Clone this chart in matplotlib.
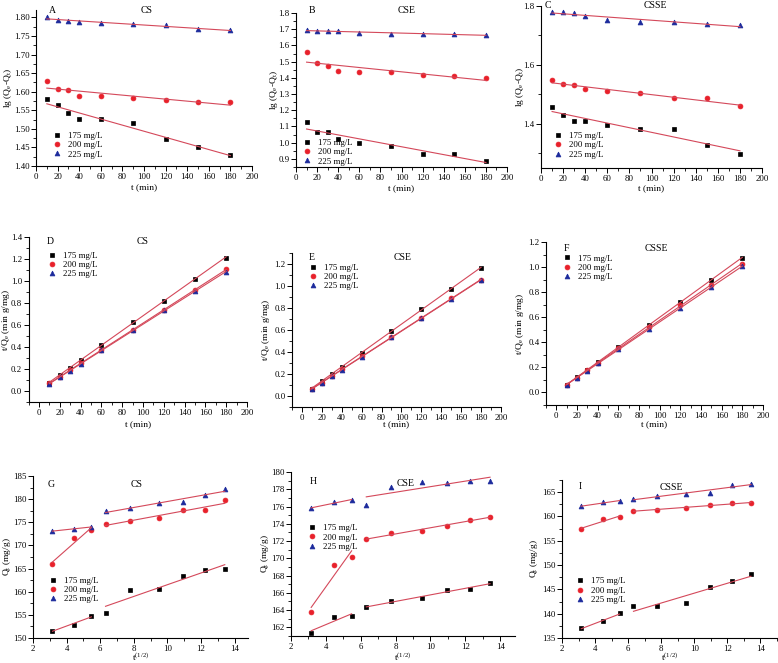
import numpy as np
import matplotlib
matplotlib.use("Agg")
import matplotlib.pyplot as plt
from matplotlib.ticker import MultipleLocator, FormatStrFormatter

plt.rcParams['font.family'] = 'Liberation Serif'
plt.rcParams['mathtext.fontset'] = 'custom'
plt.rcParams['mathtext.rm'] = 'Liberation Serif'
plt.rcParams['mathtext.it'] = 'Liberation Serif:italic'

# time (min) and square root of time
t = [10, 20, 30, 40, 60, 90, 120, 150, 180]
sqrt_t = [3.16, 4.47, 5.48, 6.32, 7.75, 9.49, 10.95, 12.25, 13.42]
labels = ['175 mg/L', '200 mg/L', '225 mg/L']

# pseudo-first-order, lg(Qe-Qt)
A175 = [1.580, 1.563, 1.543, 1.526, 1.526, 1.516, 1.472, 1.452, 1.429]
A200 = [1.630, 1.606, 1.604, 1.589, 1.589, 1.583, 1.578, 1.572, 1.572]
A225 = [1.800, 1.794, 1.791, 1.789, 1.785, 1.781, 1.779, 1.768, 1.766]
B175 = [1.128, 1.069, 1.065, 1.023, 0.999, 0.980, 0.933, 0.931, 0.890]
B200 = [1.558, 1.490, 1.474, 1.445, 1.435, 1.433, 1.420, 1.410, 1.402]
B225 = [1.697, 1.691, 1.687, 1.691, 1.674, 1.670, 1.672, 1.670, 1.666]
C175 = [1.458, 1.431, 1.411, 1.411, 1.395, 1.384, 1.381, 1.328, 1.298]
C200 = [1.548, 1.534, 1.532, 1.519, 1.510, 1.503, 1.488, 1.488, 1.459]
C225 = [1.780, 1.779, 1.775, 1.767, 1.753, 1.746, 1.746, 1.740, 1.735]

# pseudo-second-order, t/Qt
D175 = [0.075, 0.145, 0.21, 0.28, 0.42, 0.63, 0.82, 1.02, 1.21]
D200 = [0.068, 0.13, 0.19, 0.255, 0.37, 0.555, 0.74, 0.92, 1.105]
D225 = [0.062, 0.125, 0.185, 0.248, 0.37, 0.55, 0.735, 0.905, 1.08]
E175 = [0.068, 0.135, 0.2, 0.265, 0.395, 0.595, 0.795, 0.975, 1.16]
E200 = [0.065, 0.122, 0.183, 0.243, 0.36, 0.535, 0.71, 0.89, 1.055]
E225 = [0.063, 0.12, 0.18, 0.24, 0.355, 0.532, 0.708, 0.886, 1.052]
F175 = [0.062, 0.12, 0.182, 0.243, 0.362, 0.54, 0.72, 0.9, 1.075]
F200 = [0.06, 0.118, 0.178, 0.238, 0.352, 0.525, 0.695, 0.858, 1.025]
F225 = [0.058, 0.116, 0.175, 0.233, 0.343, 0.507, 0.676, 0.84, 1.005]

# intraparticle diffusion, Qt (mg/g)
G175 = [151.6, 152.9, 154.75, 155.3, 160.4, 160.6, 163.5, 164.6, 164.9]
G200 = [166.0, 171.6, 173.3, 174.6, 175.35, 176.0, 177.6, 177.6, 179.8]
G225 = [173.1, 173.6, 174.0, 177.4, 178.1, 179.1, 179.3, 180.9, 182.3]
H175 = [161.4, 163.2, 163.3, 164.36, 165.0, 165.37, 166.38, 166.4, 167.15]
H200 = [163.8, 169.2, 170.2, 172.2, 172.9, 173.2, 173.8, 174.4, 174.8]
H225 = [175.8, 176.5, 176.75, 176.2, 178.25, 178.8, 178.7, 178.9, 179.0]
I175 = [137.0, 138.4, 140.05, 141.5, 141.6, 142.2, 145.4, 146.7, 148.15]
I200 = [157.35, 159.5, 159.8, 161.2, 161.3, 161.8, 162.3, 162.7, 162.8]
I225 = [162.06, 162.9, 163.2, 163.5, 164.3, 164.6, 164.9, 166.5, 166.6]

markers = [('s', 'black'), ('o', '#e8202a'), ('^', '#1c2a9c')]
fitcol = '#d4485a'
fs = 6.3

fig = plt.figure(figsize=(7.78, 6.63), dpi=100)


def draw(rect, x, series, segs, xlim, ylim, xst, yst, yfmt, xlabel, ylabel,
         letter, title, lpos, tpos, legpos, xlc, ylc):
    ax = fig.add_axes(rect)
    for ys, (m, c), lab in zip(series, markers, labels):
        ax.plot(x, ys, m, color=c, ms=3.5, mec=c, mew=0.5, ls='none',
                label=lab, zorder=3)
        xa, ya = np.array(x), np.array(ys)
        for a, b in segs:
            k, q = np.polyfit(xa[a:b], ya[a:b], 1)
            xx = np.array([xa[a], xa[b - 1]])
            ax.plot(xx, k * xx + q, color=fitcol, lw=0.8, zorder=4)
    ax.set_xlim(*xlim)
    ax.set_ylim(*ylim)
    ax.xaxis.set_major_locator(MultipleLocator(xst))
    ax.xaxis.set_minor_locator(MultipleLocator(xst / 2))
    ax.yaxis.set_major_locator(MultipleLocator(yst))
    ax.yaxis.set_minor_locator(MultipleLocator(yst / 2))
    ax.yaxis.set_major_formatter(FormatStrFormatter(yfmt))
    for s in ['top', 'right']:
        ax.spines[s].set_visible(False)
    for s in ['left', 'bottom']:
        ax.spines[s].set_linewidth(0.8)
    ax.tick_params(which='major', direction='out', length=3.5, width=0.7,
                   labelsize=fs, pad=1.2)
    ax.tick_params(which='minor', direction='out', length=2, width=0.6)
    ax.set_xlabel(xlabel, fontsize=fs + 0.5)
    ax.set_ylabel(ylabel, fontsize=fs + 0.5)
    ax.xaxis.set_label_coords(0.5, xlc)
    ax.yaxis.set_label_coords(ylc, 0.5)
    ax.text(lpos[0], lpos[1], letter, transform=ax.transAxes, fontsize=fs + 0.7,
            ha='center', va='center')
    ax.text(tpos[0], tpos[1], title, transform=ax.transAxes, fontsize=fs + 0.7,
            ha='center', va='center')
    h, l = ax.get_legend_handles_labels()
    ax.legend(h, l, loc='upper left', bbox_to_anchor=legpos, frameon=False,
              fontsize=fs, handlelength=1.0, handletextpad=0.8,
              labelspacing=0.15, borderaxespad=0, borderpad=0)
    return ax


full = [(0, 9)]
split = [(0, 3), (3, 9)]
lab1 = 'lg (Q$_\\mathrm{e}$-Q$_\\mathrm{t}$)'
lab2 = 't/Q$_\\mathrm{e}$ (min g/mg)'
lab3 = 'Q$_\\mathrm{t}$ (mg/g)'
xl1 = 't (min)'
xl3 = 't$^{\\mathrm{(1/2)}}$'

draw([0.0463, 0.7496, 0.2776, 0.2353], t, [A175, A200, A225], full,
     (0, 200), (1.40, 1.82), 20, 0.05, '%.2f', xl1, lab1, 'A', 'CS',
     (0.074, 1.0), (0.51, 1.0), (0.076, 0.221), -0.109, -0.104)
draw([0.3805, 0.7481, 0.2712, 0.2323], t, [B175, B200, B225], full,
     (0, 200), (0.85, 1.8), 20, 0.1, '%.1f', xl1, lab1, 'B', 'CSE',
     (0.076, 1.013), (0.526, 1.013), (0.031, 0.185), -0.11, -0.078)
draw([0.6954, 0.7466, 0.2841, 0.2443], t, [C175, C200, C225], full,
     (0, 200), (1.25, 1.8), 20, 0.2, '%.1f', xl1, lab1, 'C', 'CSSE',
     (0.03, 1.006), (0.516, 1.006), (0.057, 0.224), -0.099, -0.068)

draw([0.0368, 0.3937, 0.2807, 0.2489], t, [D175, D200, D225], full,
     (-10, 200), (-0.1, 1.4), 20, 0.2, '%.1f', xl1, lab2, 'D', 'CS',
     (0.098, 0.97), (0.524, 0.97), (0.086, 0.912), -0.109, -0.076)
draw([0.3753, 0.3861, 0.2686, 0.2323], t, [E175, E200, E225], full,
     (-10, 200), (-0.1, 1.3), 20, 0.2, '%.1f', xl1, lab2, 'E', 'CSE',
     (0.096, 0.974), (0.531, 0.974), (0.078, 0.932), -0.084, -0.097)
draw([0.7018, 0.3891, 0.2789, 0.2459], t, [F175, F200, F225], full,
     (-10, 200), (-0.1, 1.2), 20, 0.2, '%.1f', xl1, lab2, 'F', 'CSSE',
     (0.092, 0.963), (0.51, 0.963), (0.076, 0.924), -0.092, -0.094)

draw([0.0424, 0.0377, 0.2763, 0.2443], sqrt_t, [G175, G200, G225], split,
     (2, 14.8), (150, 185), 2, 5, '%d', xl3, lab3, 'G', 'CS',
     (0.084, 0.95), (0.484, 0.95), (0.072, 0.38), -0.086, -0.092)
draw([0.374, 0.0407, 0.2879, 0.2474], sqrt_t, [H175, H200, H225], split,
     (2, 14.85), (161, 180), 2, 2, '%d', xl3, lab3, 'H', 'CSE',
     (0.098, 0.94), (0.51, 0.93), (0.074, 0.683), -0.096, -0.09)
draw([0.7224, 0.0377, 0.2763, 0.2383], sqrt_t, [I175, I200, I225], split,
     (2, 15), (135, 167.5), 2, 5, '%d', xl3, lab3, 'I', 'CSSE',
     (0.084, 0.96), (0.51, 0.95), (0.063, 0.384), -0.084, -0.104)

fig.savefig('out.png', dpi=100)
